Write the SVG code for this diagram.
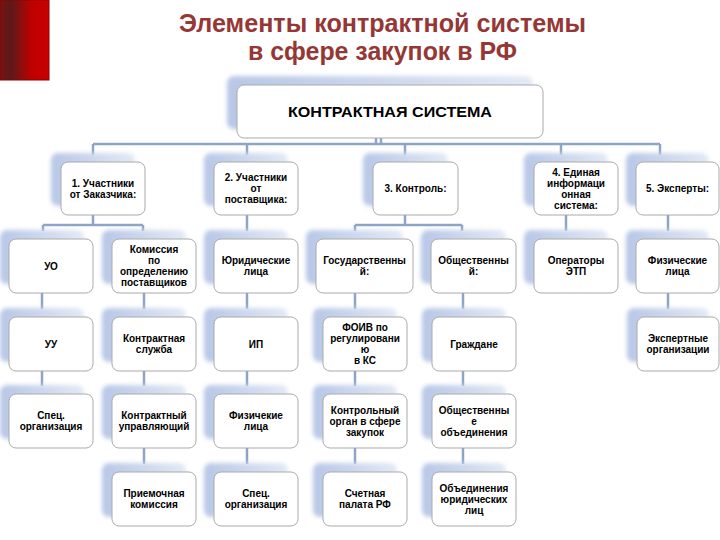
<svg xmlns="http://www.w3.org/2000/svg" width="720" height="540" viewBox="0 0 720 540">
<defs>
<linearGradient id="redbar" x1="0" y1="0" x2="1" y2="0">
<stop offset="0" stop-color="#7a1212"/>
<stop offset="0.22" stop-color="#5a1a1a"/>
<stop offset="0.65" stop-color="#c00000"/>
<stop offset="1" stop-color="#c80000"/>
</linearGradient>
<linearGradient id="shadowGrad" x1="0" y1="0" x2="1" y2="0">
<stop offset="0" stop-color="#b7c7e6"/>
<stop offset="1" stop-color="#e3e9f5"/>
</linearGradient>
<filter id="blur" x="-20%" y="-20%" width="140%" height="140%">
<feGaussianBlur stdDeviation="2"/>
</filter>
</defs>
<style>
.title{font-family:"Liberation Sans",Arial,sans-serif;font-weight:bold;font-size:25px;fill:#953735;text-anchor:middle}
.box{fill:#ffffff;stroke:#aaaaaa;stroke-width:1}
.sh{fill:url(#shadowGrad);filter:url(#blur)}
.t{font-family:"Liberation Sans",Arial,sans-serif;font-weight:bold;font-size:10px;fill:#000000;text-anchor:middle}
.tm{font-family:"Liberation Sans",Arial,sans-serif;font-weight:bold;font-size:15px;fill:#000000;text-anchor:middle}
.conn{fill:none;stroke:#8ea4c6;stroke-width:2.5}
</style>
<rect x="0" y="0" width="49" height="80" fill="url(#redbar)" stroke="#8b0000" stroke-width="1"/>
<text class="title" x="382.5" y="32" textLength="407" lengthAdjust="spacingAndGlyphs">Элементы контрактной системы</text>
<text class="title" x="382.5" y="60" textLength="269" lengthAdjust="spacingAndGlyphs">в сфере закупок в РФ</text>

<g id="connectors">
<path class="conn" d="M376 138V144M381 138V144M93 144H660M93 144V155M247 144V155M405 144V155M561 144V155M660 144V155"/>
<path class="conn" d="M93 215V225M43 225H143M43 225V231M143 225V231M247 215V231M405 215V225M355 225H462M355 225V231M462 225V231M566 215V231M668 215V231"/>
<path class="conn" d="M42 293V309M42 371V386M144 293V309M144 371V386M144 448V464M247 293V309M247 371V386M247 448V464M355 293V309M355 371V386M355 448V464M463 293V309M463 371V386M463 448V464M668 293V309"/>
</g>

<g id="main">
<rect class="sh" x="227" y="76" width="306" height="53" rx="7"/>
<rect class="box" x="237" y="85" width="306" height="53" rx="7"/>
<text class="tm" x="390" y="117" textLength="204" lengthAdjust="spacingAndGlyphs">КОНТРАКТНАЯ СИСТЕМА</text>
</g>

<g id="n1">
<rect class="sh" x="51" y="153" width="84" height="53" rx="7"/>
<rect class="box" x="61" y="162" width="84" height="53" rx="7"/>
<text class="t" x="103" y="186.5">1. Участники</text>
<text class="t" x="103" y="197.5">от Заказчика:</text>
</g>
<g id="n2">
<rect class="sh" x="204" y="153" width="84" height="53" rx="7"/>
<rect class="box" x="214" y="162" width="84" height="53" rx="7"/>
<text class="t" x="256" y="181">2. Участники</text>
<text class="t" x="256" y="192">от</text>
<text class="t" x="256" y="203">поставщика:</text>
</g>
<g id="n3">
<rect class="sh" x="363" y="153" width="85" height="53" rx="7"/>
<rect class="box" x="373" y="162" width="85" height="53" rx="7"/>
<text class="t" x="415.5" y="192">3. Контроль:</text>
</g>
<g id="n4">
<rect class="sh" x="524" y="153" width="84" height="53" rx="7"/>
<rect class="box" x="534" y="162" width="84" height="53" rx="7"/>
<text class="t" x="576" y="175.5">4. Единая</text>
<text class="t" x="576" y="186.5">информаци</text>
<text class="t" x="576" y="197.5">онная</text>
<text class="t" x="576" y="208.5">система:</text>
</g>
<g id="n5">
<rect class="sh" x="626" y="153" width="83" height="53" rx="7"/>
<rect class="box" x="636" y="162" width="83" height="53" rx="7"/>
<text class="t" x="677.5" y="192">5. Эксперты:</text>
</g>

<g id="a1">
<rect class="sh" x="0" y="230" width="84" height="54" rx="7"/>
<rect class="box" x="9" y="239" width="84" height="54" rx="7"/>
<text class="t" x="51" y="269.5">УО</text>
</g>
<g id="b1">
<rect class="sh" x="102" y="230" width="84" height="54" rx="7"/>
<rect class="box" x="112" y="239" width="84" height="54" rx="7"/>
<text class="t" x="154" y="253">Комиссия</text>
<text class="t" x="154" y="264">по</text>
<text class="t" x="154" y="275">определению</text>
<text class="t" x="154" y="286">поставщиков</text>
</g>
<g id="c1">
<rect class="sh" x="204" y="230" width="84" height="54" rx="7"/>
<rect class="box" x="214" y="239" width="84" height="54" rx="7"/>
<text class="t" x="256" y="264">Юридические</text>
<text class="t" x="256" y="275">лица</text>
</g>
<g id="d1">
<rect class="sh" x="306" y="230" width="97" height="54" rx="7"/>
<rect class="box" x="316" y="239" width="97" height="54" rx="7"/>
<text class="t" x="364.5" y="264">Государственны</text>
<text class="t" x="364.5" y="275">й:</text>
</g>
<g id="e1">
<rect class="sh" x="421" y="230" width="85" height="54" rx="7"/>
<rect class="box" x="431" y="239" width="85" height="54" rx="7"/>
<text class="t" x="473.5" y="264">Общественны</text>
<text class="t" x="473.5" y="275">й:</text>
</g>
<g id="f1">
<rect class="sh" x="524" y="230" width="84" height="54" rx="7"/>
<rect class="box" x="534" y="239" width="84" height="54" rx="7"/>
<text class="t" x="576" y="264">Операторы</text>
<text class="t" x="576" y="275">ЭТП</text>
</g>
<g id="g1">
<rect class="sh" x="626" y="230" width="83" height="54" rx="7"/>
<rect class="box" x="636" y="239" width="83" height="54" rx="7"/>
<text class="t" x="677.5" y="264">Физические</text>
<text class="t" x="677.5" y="275">лица</text>
</g>

<g id="a2">
<rect class="sh" x="0" y="308" width="84" height="54" rx="7"/>
<rect class="box" x="9" y="317" width="84" height="54" rx="7"/>
<text class="t" x="51" y="347.5">УУ</text>
</g>
<g id="b2">
<rect class="sh" x="102" y="308" width="84" height="54" rx="7"/>
<rect class="box" x="112" y="317" width="84" height="54" rx="7"/>
<text class="t" x="154" y="342">Контрактная</text>
<text class="t" x="154" y="353">служба</text>
</g>
<g id="c2">
<rect class="sh" x="204" y="308" width="84" height="54" rx="7"/>
<rect class="box" x="214" y="317" width="84" height="54" rx="7"/>
<text class="t" x="256" y="347.5">ИП</text>
</g>
<g id="d2">
<rect class="sh" x="313" y="308" width="84" height="54" rx="7"/>
<rect class="box" x="323" y="317" width="84" height="54" rx="7"/>
<text class="t" x="365" y="331">ФОИВ по</text>
<text class="t" x="365" y="342">регулировани</text>
<text class="t" x="365" y="353">ю</text>
<text class="t" x="365" y="364">в КС</text>
</g>
<g id="e2">
<rect class="sh" x="422" y="308" width="84" height="54" rx="7"/>
<rect class="box" x="432" y="317" width="84" height="54" rx="7"/>
<text class="t" x="474" y="347.5">Граждане</text>
</g>
<g id="g2">
<rect class="sh" x="627" y="308" width="82" height="54" rx="7"/>
<rect class="box" x="637" y="317" width="82" height="54" rx="7"/>
<text class="t" x="678" y="342">Экспертные</text>
<text class="t" x="678" y="353">организации</text>
</g>

<g id="a3">
<rect class="sh" x="0" y="385" width="84" height="54" rx="7"/>
<rect class="box" x="9" y="394" width="84" height="54" rx="7"/>
<text class="t" x="51" y="419">Спец.</text>
<text class="t" x="51" y="430">организация</text>
</g>
<g id="b3">
<rect class="sh" x="102" y="385" width="84" height="54" rx="7"/>
<rect class="box" x="112" y="394" width="84" height="54" rx="7"/>
<text class="t" x="154" y="419">Контрактный</text>
<text class="t" x="154" y="430">управляющий</text>
</g>
<g id="c3">
<rect class="sh" x="204" y="385" width="84" height="54" rx="7"/>
<rect class="box" x="214" y="394" width="84" height="54" rx="7"/>
<text class="t" x="256" y="419">Физичекие</text>
<text class="t" x="256" y="430">лица</text>
</g>
<g id="d3">
<rect class="sh" x="313" y="385" width="84" height="54" rx="7"/>
<rect class="box" x="323" y="394" width="84" height="54" rx="7"/>
<text class="t" x="365" y="413.5">Контрольный</text>
<text class="t" x="365" y="424.5">орган в сфере</text>
<text class="t" x="365" y="435.5">закупок</text>
</g>
<g id="e3">
<rect class="sh" x="422" y="385" width="84" height="54" rx="7"/>
<rect class="box" x="432" y="394" width="84" height="54" rx="7"/>
<text class="t" x="474" y="413.5">Общественны</text>
<text class="t" x="474" y="424.5">е</text>
<text class="t" x="474" y="435.5">объединения</text>
</g>

<g id="b4">
<rect class="sh" x="102" y="463" width="84" height="54" rx="7"/>
<rect class="box" x="112" y="472" width="84" height="54" rx="7"/>
<text class="t" x="154" y="497">Приемочная</text>
<text class="t" x="154" y="508">комиссия</text>
</g>
<g id="c4">
<rect class="sh" x="204" y="463" width="84" height="54" rx="7"/>
<rect class="box" x="214" y="472" width="84" height="54" rx="7"/>
<text class="t" x="256" y="497">Спец.</text>
<text class="t" x="256" y="508">организация</text>
</g>
<g id="d4">
<rect class="sh" x="313" y="463" width="84" height="54" rx="7"/>
<rect class="box" x="323" y="472" width="84" height="54" rx="7"/>
<text class="t" x="365" y="497">Счетная</text>
<text class="t" x="365" y="508">палата РФ</text>
</g>
<g id="e4">
<rect class="sh" x="422" y="463" width="84" height="54" rx="7"/>
<rect class="box" x="432" y="472" width="84" height="54" rx="7"/>
<text class="t" x="474" y="491.5">Объединения</text>
<text class="t" x="474" y="502.5">юридических</text>
<text class="t" x="474" y="513.5">лиц</text>
</g>
</svg>
